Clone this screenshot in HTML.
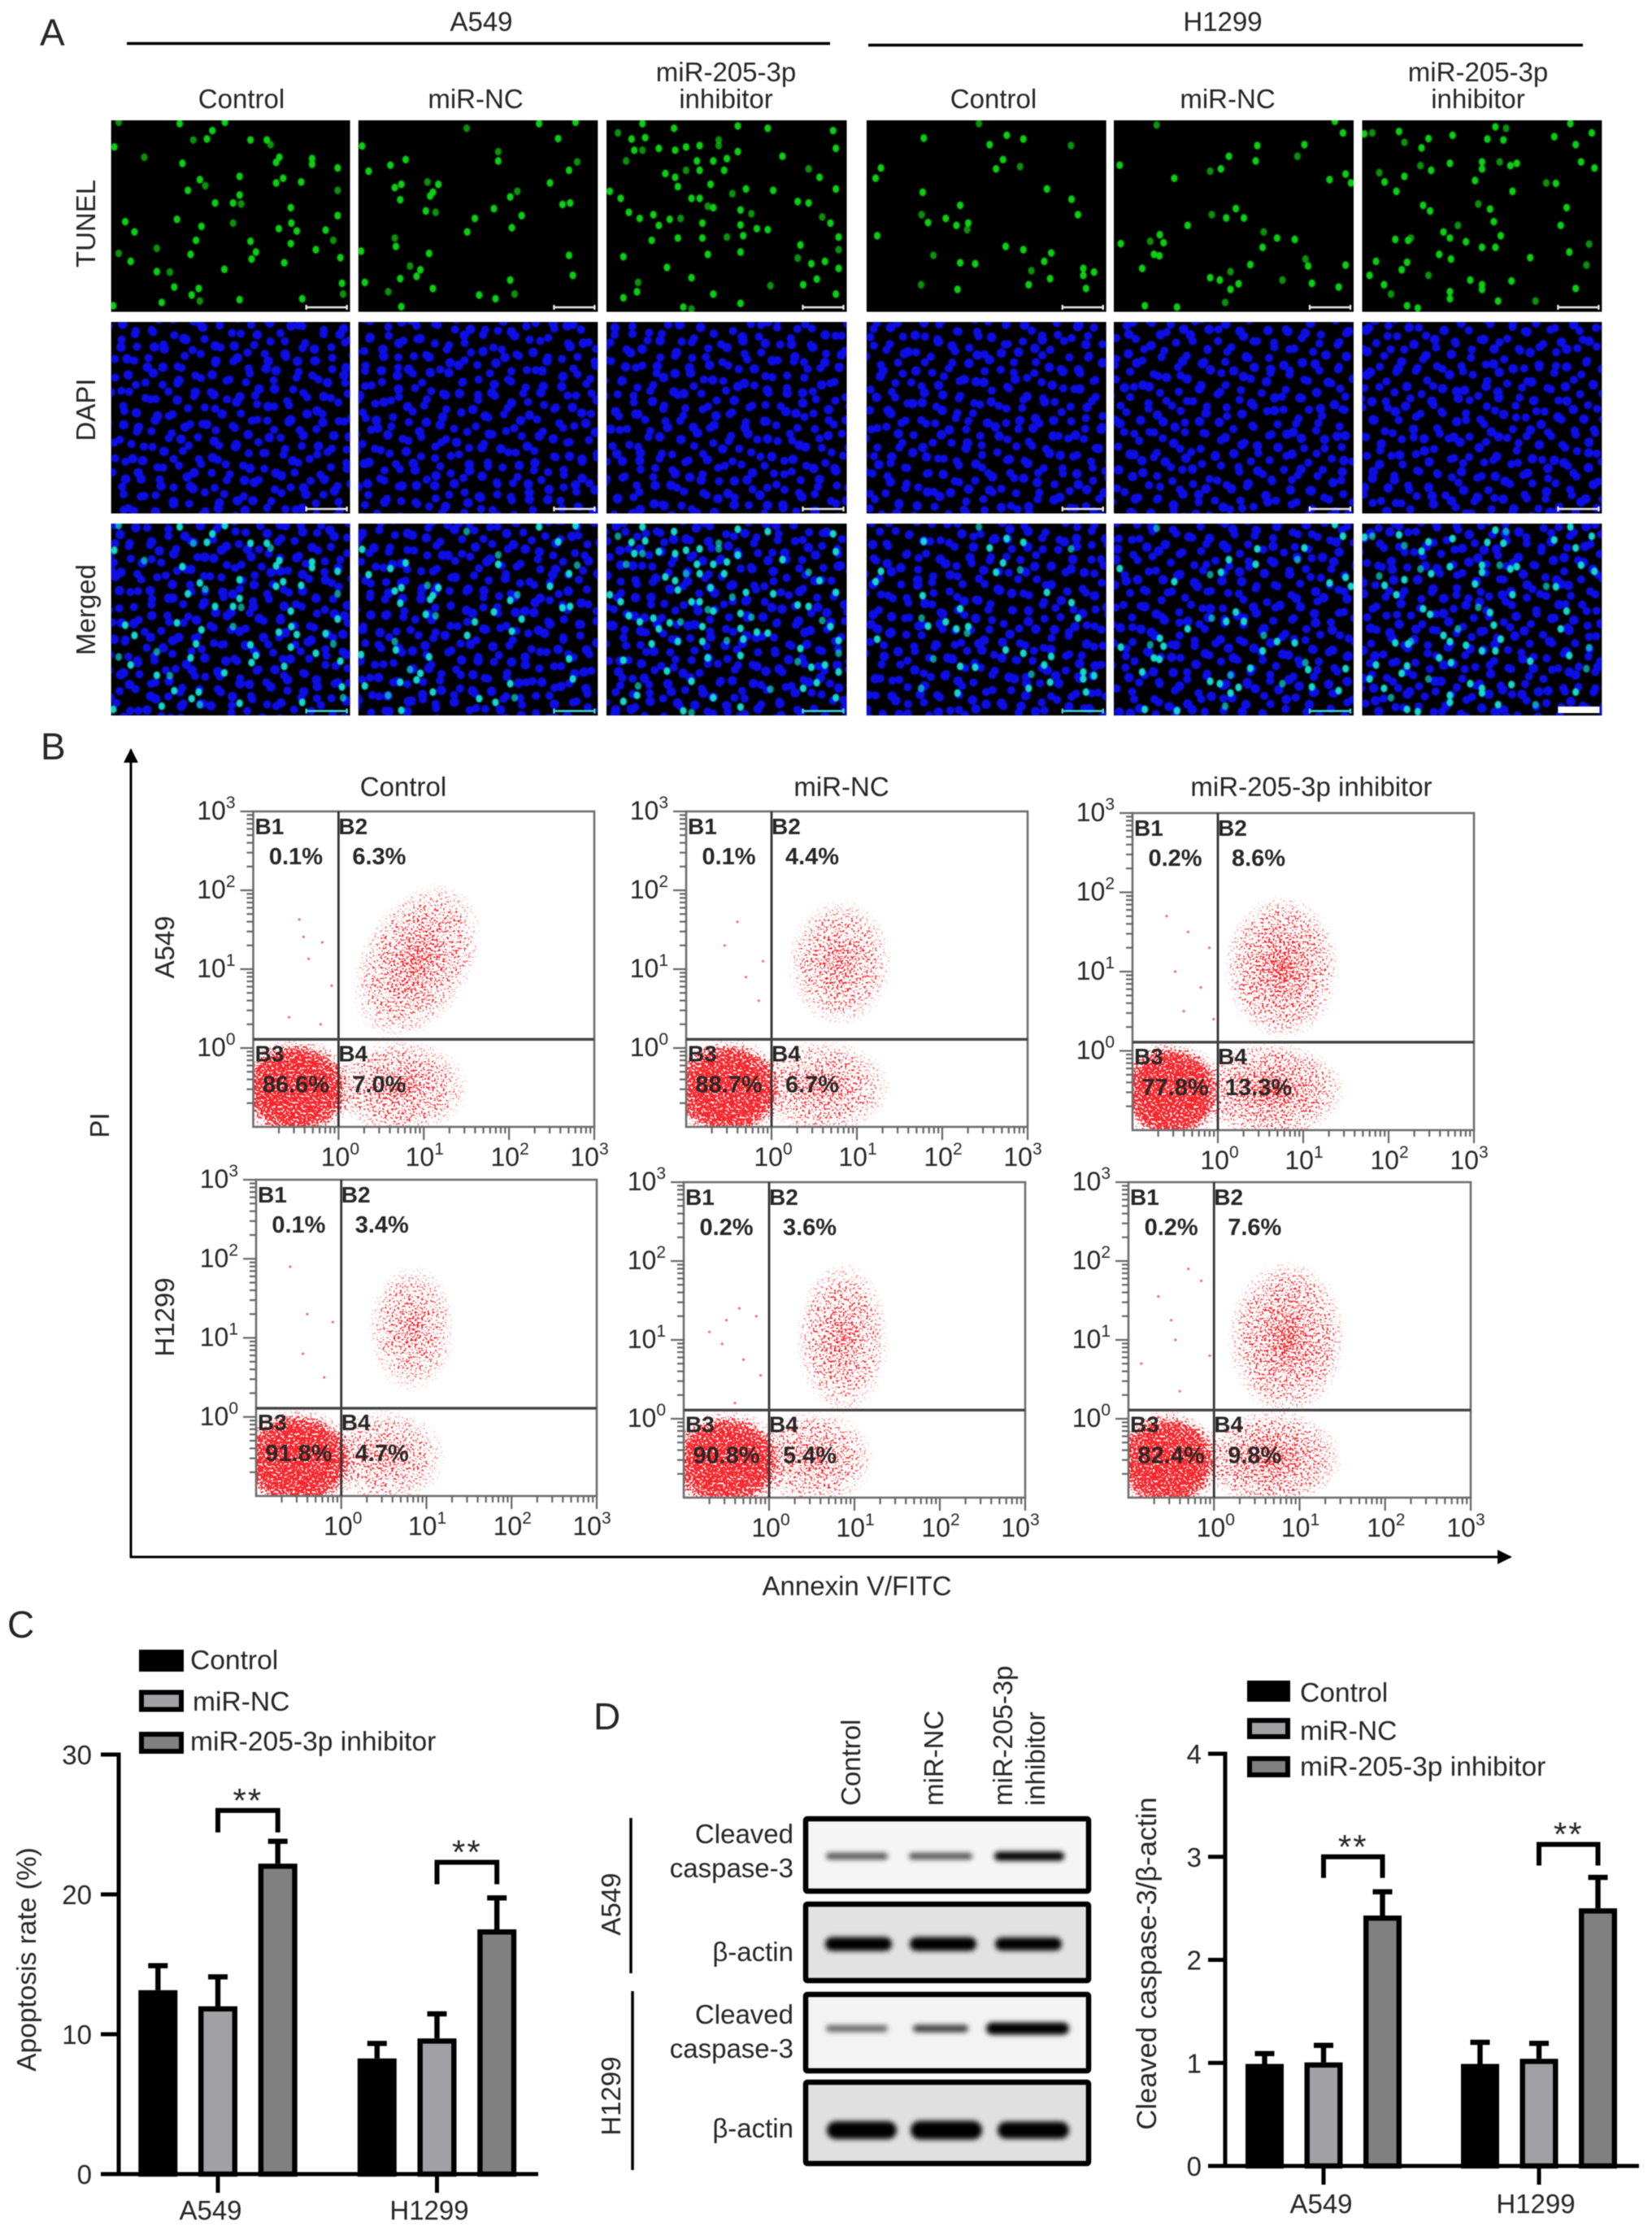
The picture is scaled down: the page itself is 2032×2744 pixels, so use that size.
<!DOCTYPE html>
<html lang="en">
<head>
<meta charset="utf-8">
<title>miR-205-3p inhibitor apoptosis figure</title>
<style>
  html,body{margin:0;padding:0;background:#fff;}
  svg{display:block;filter:blur(0.55px);}
  text{font-family:"Liberation Sans",sans-serif;fill:#262626;}
</style>
</head>
<body>
<svg id="figure" xmlns="http://www.w3.org/2000/svg" width="2032" height="2744" viewBox="0 0 2032 2744">
  <defs id="defs">
    <filter id="speckle" x="-5%" y="-5%" width="110%" height="110%" color-interpolation-filters="sRGB">
      <feTurbulence type="fractalNoise" baseFrequency="0.38" numOctaves="2" seed="7" result="raw"/>
      <feColorMatrix in="raw" type="matrix" values="0 0 0 0 0  0 0 0 0 0  0 0 0 0 0  3.6 0 0 0 -1.3" result="noise"/>
      <feComposite in="SourceAlpha" in2="noise" operator="arithmetic" k1="0" k2="1" k3="1" k4="-1" result="mask"/>
      <feComponentTransfer in="mask" result="sharp"><feFuncA type="linear" slope="5" intercept="0"/></feComponentTransfer>
      <feFlood flood-color="#f7141a" flood-opacity="0.92"/>
      <feComposite in2="sharp" operator="in"/>
    </filter>
    <filter id="band-blur" x="-20%" y="-80%" width="140%" height="260%"><feGaussianBlur stdDeviation="3.2"/></filter>
    <filter id="soft" x="-2%" y="-2%" width="104%" height="104%"><feGaussianBlur stdDeviation="0.8"/></filter>
    <marker id="arrow-head" viewBox="0 0 10 10" refX="9" refY="5" markerWidth="6" markerHeight="6" orient="auto"><path d="M0 0L10 5L0 10z" fill="#000"/></marker>
  </defs>

  <g id="panel-a">
    <text x="49" y="56" font-size="46">A</text>
    <text x="592" y="38" font-size="33" text-anchor="middle">A549</text>
    <line x1="156" y1="53.5" x2="1021" y2="53.5" stroke="#000" stroke-width="3.5"/>
    <text x="1504" y="38" font-size="33" text-anchor="middle">H1299</text>
    <line x1="1068" y1="55.5" x2="1947" y2="55.5" stroke="#000" stroke-width="3.5"/>
  </g>
  <g id="panel-b">
    <text x="50" y="934" font-size="46">B</text>
    <line x1="161" y1="1916" x2="161" y2="922" stroke="#000" stroke-width="3" marker-end="url(#arrow-head)"/>
    <line x1="160" y1="1915" x2="1858" y2="1915" stroke="#000" stroke-width="3" marker-end="url(#arrow-head)"/>
    <text x="1054" y="1962" font-size="33" text-anchor="middle">Annexin V/FITC</text>
    <text transform="translate(134 1384) rotate(-90)" font-size="33" text-anchor="middle">PI</text>
    <text transform="translate(214 1165) rotate(-90)" font-size="33" text-anchor="middle">A549</text>
    <text transform="translate(214 1620) rotate(-90)" font-size="33" text-anchor="middle">H1299</text>
    <text x="496" y="979" font-size="33" text-anchor="middle">Control</text>
    <text x="1035" y="979" font-size="33" text-anchor="middle">miR-NC</text>
    <text x="1613" y="979" font-size="33" text-anchor="middle">miR-205-3p inhibitor</text>
  </g>
  <g id="panel-c">
    <text x="9" y="2014" font-size="46">C</text>
  </g>
  <g id="panel-d">
    <text x="730" y="2127" font-size="46">D</text>
  </g>
</svg>

<script>
/* ---------- shared categories ---------- */
const cellLines = ['A549', 'H1299'];
const treatments = ['Control', 'miR-NC', 'miR-205-3p inhibitor'];

/* ---------- panel C: apoptosis rate ---------- */
const apoptosisTicks = [0, 10, 20, 30];
const apoptosisA549 = [13.15, 12.0, 22.2];
const apoptosisH1299 = [8.27, 9.7, 17.5];
const apoptosisErrA549 = [1.75, 2.1, 1.6];
const apoptosisErrH1299 = [1.07, 1.76, 2.25];
const apoptosisBrackets = [26.0, 22.3];

/* ---------- panel D: cleaved caspase-3 / beta-actin ---------- */
const caspaseTicks = [0, 1, 2, 3, 4];
const caspaseA549 = [0.99, 1.005, 2.43];
const caspaseH1299 = [0.99, 1.04, 2.5];
const caspaseErrA549 = [0.10, 0.165, 0.23];
const caspaseErrH1299 = [0.21, 0.15, 0.30];
const caspaseBrackets = [3.0, 3.12];

/* ---------- panel D: western blot band strengths (opacity) and widths ---------- */
const blotNames = ['Cleaved caspase-3', '\u03B2-actin', 'Cleaved caspase-3', '\u03B2-actin'];
const blotIntensity = [[0.68, 0.68, 1], [1, 1, 1], [0.6, 0.75, 1], [1, 1, 1]];
const blotBandWidth = [[76, 78, 86], [82, 82, 82], [76, 68, 102], [86, 88, 88]];
const blotBandHeight = [[8, 8, 11], [17, 17, 16], [8, 9, 15], [22, 23, 21]];

/* ---------- panel B: flow cytometry ---------- */
const flowPlotNames = ['a549-control', 'a549-mir-nc', 'a549-inhibitor', 'h1299-control', 'h1299-mir-nc', 'h1299-inhibitor'];
const quadrantNames = ['B1', 'B2', 'B3', 'B4'];
const flowPercents = [
  ['0.1%', '6.3%', '86.6%', '7.0%'],
  ['0.1%', '4.4%', '88.7%', '6.7%'],
  ['0.2%', '8.6%', '77.8%', '13.3%'],
  ['0.1%', '3.4%', '91.8%', '4.7%'],
  ['0.2%', '3.6%', '90.8%', '5.4%'],
  ['0.2%', '7.6%', '82.4%', '9.8%']
];
const flowExponents = ['0', '1', '2', '3'];
/* gate positions in log10 units */
const flowGateX = [0, 0, 0, 0, 0, 0];
const flowGateY = [0.11, 0.11, 0.11, 0.11, 0.11, 0.11];
/* population centres and half-extents in log10 units, with peak density */
const liveCellPopulation = [
  [-0.5, -0.52, 0.7, 0.66, 1.0], [-0.52, -0.52, 0.72, 0.66, 1.0], [-0.55, -0.52, 0.64, 0.66, 1.0],
  [-0.52, -0.54, 0.74, 0.66, 1.0], [-0.5, -0.54, 0.72, 0.66, 1.0], [-0.55, -0.54, 0.66, 0.66, 1.0]
];
const lateApoptosisPopulation = [
  [0.92, 1.1, 0.66, 1.08, 0.6], [0.8, 1.08, 0.62, 0.82, 0.52], [0.75, 1.05, 0.68, 0.92, 0.68],
  [0.83, 1.12, 0.52, 0.82, 0.48], [0.86, 1.02, 0.55, 0.98, 0.54], [0.85, 1.02, 0.7, 1.0, 0.66]
];
const lateApoptosisTilt = [30, 0, 0, 0, 0, 0];
const earlyApoptosisPopulation = [
  [0.72, -0.5, 0.82, 0.62, 0.58], [0.6, -0.5, 0.8, 0.62, 0.54], [0.62, -0.5, 0.88, 0.62, 0.7],
  [0.52, -0.5, 0.72, 0.62, 0.48], [0.52, -0.5, 0.72, 0.62, 0.54], [0.66, -0.5, 0.85, 0.62, 0.68]
];
/* sparse events read individually in the upper-left gate (log10 x, log10 y) */
const upperLeftEvents = [
  [[-0.46, 1.63], [-0.41, 1.41], [-0.19, 1.34], [-0.35, 1.13], [-0.08, 0.79], [-0.58, 0.39], [-0.21, 0.3]],
  [[-0.55, 1.3], [-0.3, 0.9], [-0.15, 0.6], [-0.4, 1.6], [-0.1, 1.1]],
  [[-0.6, 1.7], [-0.35, 1.5], [-0.1, 1.3], [-0.5, 1.0], [-0.2, 0.8], [-0.4, 0.5], [-0.05, 0.4]],
  [[-0.6, 1.9], [-0.4, 1.3], [-0.1, 1.2], [-0.45, 0.8], [-0.2, 0.5]],
  [[-0.5, 1.25], [-0.35, 1.4], [-0.15, 1.3], [-0.7, 1.1], [-0.55, 0.95], [-0.3, 0.75], [-0.1, 0.55], [-0.4, 0.2]],
  [[-0.65, 1.55], [-0.3, 1.9], [-0.15, 1.75], [-0.5, 1.25], [-0.45, 1.0], [-0.85, 0.7], [-0.4, 0.35], [-0.05, 0.8]]
];

/* ---------- panel A: TUNEL-positive nuclei read from each micrograph,
   as positions in the source view of that panel ---------- */
const tunelControlA = [[355,300],[380,298],[390,280],[460,300],[490,300],[497,310],[513,337],[507,348],[573,340],[573,352],[265,337],[335,350],[210,315],[620,360],[367,385],[377,398],[440,378],[520,382],[507,392],[553,390],[620,408],[345,408],[395,435],[440,418],[428,435],[443,437],[534,445],[620,462],[325,470],[370,485],[428,478],[512,490],[535,478],[545,495],[598,493],[612,515],[230,475],[247,497],[360,515],[460,517],[288,532],[470,540],[462,555],[534,522],[580,535],[218,543],[240,560],[350,545],[522,563],[625,552],[312,583],[288,582],[412,577],[365,618],[352,632],[367,645],[297,648],[440,642],[555,640],[628,607],[630,630],[208,655],[320,615],[330,265],[413,262],[218,262]];
const tunelNcA = [[857,275],[990,265],[1057,262],[1025,297],[665,313],[915,325],[915,345],[745,342],[717,354],[677,367],[1060,347],[1045,365],[725,402],[737,395],[735,428],[785,390],[805,395],[795,412],[790,420],[1010,392],[950,410],[937,422],[1033,438],[1047,435],[782,452],[800,455],[907,447],[958,462],[872,468],[940,488],[725,510],[727,528],[1045,547],[663,538],[788,543],[753,570],[772,578],[765,592],[735,597],[670,605],[713,625],[795,618],[880,632],[910,640],[937,600],[945,630],[737,657],[1052,590],[858,497]];
const tunelInhA = [[1135,285],[1180,265],[1238,275],[1160,298],[1185,295],[1320,300],[1355,270],[1410,275],[1530,280],[1165,322],[1180,322],[1210,318],[1240,322],[1260,315],[1285,312],[1320,312],[1355,325],[1335,340],[1437,335],[1535,318],[1150,345],[1222,372],[1240,380],[1280,345],[1310,345],[1260,365],[1285,365],[1330,365],[1245,400],[1305,395],[1485,362],[1505,380],[1535,405],[1120,410],[1140,425],[1345,415],[1370,405],[1420,408],[1270,425],[1285,425],[1300,442],[1310,445],[1465,432],[1485,435],[1360,450],[1380,458],[1155,455],[1175,468],[1200,460],[1230,470],[1250,468],[1210,483],[1290,478],[1360,482],[1390,490],[1510,465],[1525,478],[1197,515],[1245,510],[1290,510],[1335,508],[1365,505],[1410,492],[1540,508],[1470,525],[1540,535],[1145,550],[1225,573],[1300,545],[1360,540],[1465,553],[1490,565],[1515,560],[1540,575],[1270,595],[1172,605],[1145,638],[1170,625],[1310,630],[1360,650],[1415,612],[1475,610],[1500,598],[1535,630],[1255,658],[1270,662]];
const tunelControlH = [[310,265],[207,296],[330,310],[362,290],[393,298],[482,312],[127,360],[117,382],[355,342],[342,362],[387,357],[437,405],[205,412],[483,427],[275,440],[203,460],[215,477],[248,468],[268,483],[290,478],[288,492],[495,460],[120,505],[360,528],[393,535],[225,547],[445,542],[432,560],[275,563],[303,565],[408,580],[505,575],[525,583],[443,597],[505,590],[202,610],[403,610],[510,618],[270,620]];
const tunelNcH = [[642,268],[975,260],[990,285],[573,354],[777,335],[742,367],[762,362],[830,312],[827,345],[918,310],[905,335],[675,382],[965,385],[995,373],[1005,392],[745,460],[772,467],[805,467],[790,447],[700,483],[842,497],[840,530],[867,510],[900,513],[575,522],[630,517],[655,520],[648,503],[637,545],[647,548],[920,555],[925,570],[995,568],[615,575],[817,567],[780,582],[742,595],[760,600],[795,608],[780,620],[877,600],[932,607],[982,615],[620,655],[680,658],[770,648]];
const tunelInhH = [[1045,285],[1030,287],[1095,282],[1195,290],[1275,272],[1295,275],[1385,293],[1415,265],[1150,297],[1137,317],[1105,305],[1260,298],[1290,300],[1425,310],[1455,285],[1135,355],[1155,365],[1190,350],[1250,347],[1250,362],[1283,347],[1303,355],[1315,350],[1435,347],[1460,360],[1058,370],[1105,378],[1068,390],[1090,410],[1237,387],[1370,392],[1388,393],[1307,410],[1140,440],[1153,452],[1243,437],[1265,448],[1408,445],[1272,475],[1178,497],[1205,483],[1397,483],[1285,505],[1088,513],[1112,515],[1117,510],[1190,510],[1220,518],[1250,530],[1275,530],[1450,523],[1170,545],[1192,555],[1413,540],[1340,552],[1445,568],[1052,560],[1110,562],[1100,578],[1040,590],[1150,590],[1228,600],[1250,610],[1305,602],[1067,610],[1080,630],[1190,625],[1425,618],[1250,620],[1280,645],[1350,645],[1110,655],[1130,660],[1190,640]];
const tunelPanels = [tunelControlA, tunelNcA, tunelInhA, tunelControlH, tunelNcH, tunelInhH];
/* hand-placed nuclei for a repeating DAPI texture tile */
const nucleiTile = [[7,9],[25,6],[40,11],[56,7],[71,10],[90,8],[104,12],[10,26],[24,22],[43,27],[58,24],[75,28],[87,23],[105,27],[6,41],[27,38],[39,44],[55,40],[73,43],[91,39],[108,42],[11,57],[22,55],[44,59],[60,56],[70,60],[88,54],[102,58],[8,73],[28,71],[38,75],[54,70],[76,74],[92,72],[106,76],[12,88],[24,90],[42,86],[59,91],[72,87],[86,91],[103,89],[5,103],[26,106],[41,101],[57,105],[74,102],[90,106],[107,103]];

const SVGNS = 'http://www.w3.org/2000/svg';

function mk(tag, attrs, parent) {
  const el = document.createElementNS(SVGNS, tag);
  for (const k in attrs) el.setAttribute(k, attrs[k]);
  parent.appendChild(el);
  return el;
}
function label(txt, attrs, parent, name) {
  const el = mk('text', attrs, parent);
  el.textContent = txt;
  
  
  return el;
}
function part(tag, attrs, parent, name) {
  const el = mk(tag, attrs, parent);
  
  
  return el;
}

/* ================= panel A ================= */
function drawMicrographs() {
  const root = document.getElementById('panel-a');
  const defs = document.getElementById('defs');
  const colNames = ['a549-control', 'a549-mir-nc', 'a549-inhibitor', 'h1299-control', 'h1299-mir-nc', 'h1299-inhibitor'];
  const colX = [[136.6, 430.7], [440.7, 735.4], [746, 1041.5], [1065.8, 1360.8], [1370, 1665], [1675.4, 1970.4]];
  const srcX = [[204, 643], [658, 1098], [1114, 1555], [100, 548], [562, 1010], [1026, 1474]];
  const srcY = [258, 668];
  const rowY = [[148, 383.5], [396, 631.5], [644, 880]];
  const rowNames = ['tunel', 'dapi', 'merged'];
  const turnsA = [11, 97, 190, 283, 37, 128];
  const turnsB = [63, 151, 241, 20, 109, 205];
  const scaleA = 1.25, scaleB = 1.6;

  const heads = [[297, 'Control'], [585, 'miR-NC'], [1222, 'Control'], [1510, 'miR-NC']];
  heads.forEach(h => label(h[1], {x: h[0], y: 133, 'font-size': 33, 'text-anchor': 'middle'}, root, 'column-title'));
  [893, 1818].forEach(x => {
    label('miR-205-3p', {x: x, y: 100, 'font-size': 33, 'text-anchor': 'middle'}, root, 'column-title');
    label('inhibitor', {x: x, y: 133, 'font-size': 33, 'text-anchor': 'middle'}, root, 'column-title');
  });
  [['TUNEL', 275], ['DAPI', 504], ['Merged', 750]].forEach(r => {
    label(r[0], {transform: 'translate(117 ' + r[1] + ') rotate(-90)', 'font-size': 33, 'text-anchor': 'middle'}, root, 'row-label');
  });

  colX.forEach((cx, c) => {
    /* two overlapping layers at different angles and scales give irregular nuclei */
    const patA = mk('pattern', {id: 'nuclei-a-' + c, width: 112, height: 112, patternUnits: 'userSpaceOnUse',
      patternTransform: 'translate(' + (cx[0] + 13 * c) + ' ' + (17 * c) + ') rotate(' + turnsA[c] + ') scale(' + scaleA + ')'}, defs);
    const patB = mk('pattern', {id: 'nuclei-b-' + c, width: 112, height: 112, patternUnits: 'userSpaceOnUse',
      patternTransform: 'translate(' + (cx[0] + 31 * c) + ' ' + (5 * c + 40) + ') rotate(' + turnsB[c] + ') scale(' + scaleB + ')'}, defs);
    nucleiTile.forEach((n, k) => {
      const big = k % 3 === 0 ? 5.9 : 5.1;
      mk('circle', {cx: n[0], cy: n[1], r: big / scaleA, fill: '#0b0fe6'}, patA);
      mk('circle', {cx: n[0], cy: n[1], r: big / scaleB, fill: '#0b0fe6'}, patB);
    });

    rowY.forEach((ry, r) => {
      const w = cx[1] - cx[0], h = ry[1] - ry[0];
      const clip = mk('clipPath', {id: 'cell-clip-' + c + '-' + r}, defs);
      mk('rect', {x: cx[0], y: ry[0], width: w, height: h}, clip);
      const g = part('g', {'clip-path': 'url(#cell-clip-' + c + '-' + r + ')'}, root, 'micrograph-' + rowNames[r] + '-' + colNames[c]);
      mk('rect', {x: cx[0], y: ry[0], width: w, height: h, fill: '#000'}, g);
      if (r > 0) {
        const layer = part('g', {filter: 'url(#soft)'}, g, 'dapi-nuclei');
        mk('rect', {x: cx[0], y: ry[0], width: w, height: h, fill: 'url(#nuclei-a-' + c + ')'}, layer);
        mk('rect', {x: cx[0], y: ry[0], width: w, height: h, fill: 'url(#nuclei-b-' + c + ')'}, layer);
      }
      if (r !== 1) {
        const dots = part('g', {fill: r === 0 ? '#10d014' : '#14d8d0', filter: 'url(#soft)'}, g, 'tunel-positive-nuclei');
        tunelPanels[c].forEach((p, k) => {
          const fx = (p[0] - srcX[c][0]) / (srcX[c][1] - srcX[c][0]);
          const fy = (p[1] - srcY[0]) / (srcY[1] - srcY[0]);
          mk('ellipse', {cx: cx[0] + fx * w, cy: ry[0] + fy * h, rx: 4.1, ry: 4.8, 'fill-opacity': k % 5 === 0 ? 0.7 : 1}, dots);
        });
      }
      const barX2 = cx[1] - 4, barX1 = barX2 - 50, barY = ry[1] - 5.5;
      if (r === 2 && c === 5) {
        part('rect', {x: barX1, y: ry[1] - 11, width: 51, height: 8, fill: '#fff'}, g, 'scale-bar');
      } else {
        const col = r === 2 ? '#3fd8d8' : '#e8e8e8';
        part('path', {d: 'M' + barX1 + ' ' + barY + 'H' + barX2 + 'M' + barX1 + ' ' + (barY - 3) + 'v6M' + barX2 + ' ' + (barY - 3) + 'v6',
          stroke: col, 'stroke-width': 2.4, fill: 'none'}, g, 'scale-bar');
      }
    });
  });
}

/* ================= panel B ================= */
const flowFrames = [
  [311.5, 731, 998, 1386], [844, 1264, 998, 1386], [1393, 1813, 1000, 1390],
  [315, 734, 1451, 1840], [841, 1261, 1454, 1842], [1388, 1809, 1454, 1842]
];
function drawFlowPlot(i) {
  const root = document.getElementById('panel-b');
  const defs = document.getElementById('defs');
  const [L, R, T, B] = flowFrames[i];
  const sx = v => L + (v + 1) * (R - L) / 4;   /* log10 value -> px */
  const sy = v => B - (v + 1) * (B - T) / 4;
  const g = part('g', {}, root, 'flow-plot-' + flowPlotNames[i]);

  const clip = mk('clipPath', {id: 'flow-clip-' + i}, defs);
  mk('rect', {x: L, y: T, width: R - L, height: B - T}, clip);
  const grad = mk('radialGradient', {id: 'flow-density-' + i}, defs);
  mk('stop', {offset: '0', 'stop-color': '#f00', 'stop-opacity': 1}, grad);
  mk('stop', {offset: '0.2', 'stop-color': '#f00', 'stop-opacity': 0.74}, grad);
  mk('stop', {offset: '0.45', 'stop-color': '#f00', 'stop-opacity': 0.5}, grad);
  mk('stop', {offset: '0.72', 'stop-color': '#f00', 'stop-opacity': 0.32}, grad);
  mk('stop', {offset: '1', 'stop-color': '#f00', 'stop-opacity': 0}, grad);
  const coreGrad = mk('radialGradient', {id: 'flow-core-' + i}, defs);
  mk('stop', {offset: '0', 'stop-color': '#f00', 'stop-opacity': 1}, coreGrad);
  mk('stop', {offset: '0.62', 'stop-color': '#f00', 'stop-opacity': 1}, coreGrad);
  mk('stop', {offset: '0.85', 'stop-color': '#f00', 'stop-opacity': 0.72}, coreGrad);
  mk('stop', {offset: '1', 'stop-color': '#f00', 'stop-opacity': 0}, coreGrad);

  const clipG = part('g', {'clip-path': 'url(#flow-clip-' + i + ')'}, g, 'flow-events');
  const speck = mk('g', {filter: 'url(#speckle)'}, clipG);
  mk('rect', {x: L, y: T, width: R - L, height: B - T, fill: '#000', 'fill-opacity': 0.001}, speck);
  [lateApoptosisPopulation[i], earlyApoptosisPopulation[i], liveCellPopulation[i]].forEach((p, k) => {
    const e = mk('ellipse', {cx: sx(p[0]), cy: sy(p[1]), rx: p[2] * (R - L) / 4, ry: p[3] * (B - T) / 4,
      fill: 'url(#flow-density-' + i + ')', 'fill-opacity': p[4]}, speck);
    if (k === 0) e.setAttribute('transform', 'rotate(' + lateApoptosisTilt[i] + ' ' + sx(p[0]) + ' ' + sy(p[1]) + ')');
    
    
  });
  const live = liveCellPopulation[i];
  part('ellipse', {cx: sx(live[0]), cy: sy(live[1]), rx: live[2] * 0.86 * (R - L) / 4, ry: live[3] * 0.86 * (B - T) / 4,
    fill: 'url(#flow-core-' + i + ')', 'fill-opacity': live[4]}, speck, 'live-cell-dense-core');
  upperLeftEvents[i].forEach(p => {
    const d = mk('circle', {cx: sx(p[0]), cy: sy(p[1]), r: 1.6, fill: '#f2707a'}, clipG);
    
    
  });

  /* frame and ticks */
  part('rect', {x: L, y: T, width: R - L, height: B - T, fill: 'none', stroke: '#6e6e6e', 'stroke-width': 2.6}, g, 'flow-frame');
  const ticks = part('g', {stroke: '#666', 'stroke-width': 2.2, fill: 'none'}, g, 'flow-ticks');
  for (let d = -1; d < 3; d++) {
    for (let m = 1; m < 10; m++) {
      const v = d + Math.log10(m);
      if (m === 1 && d === -1) continue;
      const len = m === 1 ? 16 : 8;
      mk('line', {x1: L - len, x2: L, y1: sy(v), y2: sy(v)}, ticks);
      mk('line', {x1: sx(v), x2: sx(v), y1: B, y2: B + len}, ticks);
    }
  }
  mk('line', {x1: L - 16, x2: L, y1: T, y2: T}, ticks);
  mk('line', {x1: R, x2: R, y1: B, y2: B + 16}, ticks);

  /* tick labels */
  const labelShift = [2, 1, 1, -6];
  flowExponents.forEach((ex, k) => {
    const xl = label('10', {x: sx(k) + labelShift[k], y: B + 48, 'font-size': 32, 'text-anchor': 'middle'}, g, 'x-tick-label');
    const xs = mk('tspan', {dy: -14, 'font-size': 21}, xl);
    xs.textContent = ex;
    const yl = label('10', {x: L - 22, y: sy(k) + 10, 'font-size': 32, 'text-anchor': 'end'}, g, 'y-tick-label');
    const ys = mk('tspan', {dy: -14, 'font-size': 21}, yl);
    ys.textContent = ex;
  });

  /* gates */
  const vx = sx(flowGateX[i]), hy = sy(flowGateY[i]);
  part('line', {x1: vx, x2: vx, y1: T, y2: B, stroke: '#333', 'stroke-width': 2.8}, g, 'gate-vertical');
  part('line', {x1: L, x2: R, y1: hy, y2: hy, stroke: '#444', 'stroke-width': 3.4}, g, 'gate-horizontal');

  /* quadrant labels */
  const quadX = [L + 2, vx, L + 2, vx];
  const quadY = [T + 28, T + 28, hy + 27, hy + 27];
  const pctY = [T + 65, T + 65, hy + 65, hy + 65];
  quadrantNames.forEach((q, k) => {
    label(q, {x: quadX[k], y: quadY[k], 'font-size': 28, 'font-weight': 'bold', fill: '#1c1c1c'}, g, 'quadrant-name');
    const centre = k % 2 === 0 ? (L + vx) / 2 : vx + 50;
    label(flowPercents[i][k], {x: centre, y: pctY[k], 'font-size': 29, 'font-weight': 'bold', 'text-anchor': 'middle', fill: '#1c1c1c'}, g, 'quadrant-percent');
  });
}

/* ================= bar charts ================= */
function drawBarChart(rootId, c, rowsA, rowsH, errA, errH, ticks, brackets) {
  const root = document.getElementById(rootId);
  const g = part('g', {}, root, c.name);
  const y = v => c.y0 - v * (c.y0 - c.yTop) / c.yMax;
  const x = (grp, s) => c.groupX[grp] + (s - 1) * c.step;
  const fills = ['#000', '#a1a1a5', '#808080'];
  const sw = 6.4;

  [rowsA, rowsH].forEach((vals, grp) => {
    const errs = grp === 0 ? errA : errH;
    vals.forEach((v, s) => {
      const cx = x(grp, s);
      const top = y(v + errs[s]);
      part('line', {x1: cx, x2: cx, y1: top, y2: y(v), stroke: '#000', 'stroke-width': sw}, g, 'error-bar');
      part('line', {x1: cx - 12, x2: cx + 12, y1: top, y2: top, stroke: '#000', 'stroke-width': sw}, g, 'error-cap');
      part('rect', {x: cx - c.barW / 2 + sw / 2, y: y(v) + sw / 2, width: c.barW - sw, height: c.y0 - y(v) - sw / 2,
        fill: fills[s], stroke: '#000', 'stroke-width': sw}, g, 'bar-' + cellLines[grp].toLowerCase() + '-' + s);
    });
    part('line', {x1: c.groupX[grp], x2: c.groupX[grp], y1: c.y0, y2: c.y0 + 23, stroke: '#000', 'stroke-width': 5}, g, 'x-tick');
    label(cellLines[grp], {x: c.labelX[grp], y: c.labelY, 'font-size': 33, 'text-anchor': 'middle'}, g, 'x-tick-label');

    const bx1 = x(grp, 1), bx2 = x(grp, 2), by = y(brackets[grp]);
    part('path', {d: 'M' + bx1 + ' ' + (by + c.leg) + 'V' + by + 'H' + bx2 + 'V' + (by + c.leg), fill: 'none', stroke: '#000', 'stroke-width': 6}, g, 'significance-bracket');
    label('**', {x: (bx1 + bx2) / 2, y: by + 2, 'font-size': 42, 'letter-spacing': 2, 'text-anchor': 'middle', fill: '#444'}, g, 'significance-stars');
  });

  part('line', {x1: c.axisX, x2: c.axisX, y1: c.yTop - 2.5, y2: c.y0, stroke: '#000', 'stroke-width': 5}, g, 'y-axis');
  part('line', {x1: c.tickX, x2: c.axisEnd, y1: c.y0, y2: c.y0, stroke: '#000', 'stroke-width': 5}, g, 'x-axis');
  ticks.forEach(t => {
    part('line', {x1: c.tickX, x2: c.axisX, y1: y(t), y2: y(t), stroke: '#000', 'stroke-width': 5}, g, 'y-tick');
    label(String(t), {x: c.tickLabelX, y: y(t) + 12, 'font-size': 33, 'text-anchor': 'end'}, g, 'y-tick-label');
  });
  label(c.title, {transform: 'translate(' + c.titleX + ' ' + c.titleY + ') rotate(-90)', 'font-size': c.titleSize, 'text-anchor': 'middle'}, g, 'y-axis-title');

  treatments.forEach((t, s) => {
    const ly = c.legendY[s];
    part('rect', {x: c.legendX + 3, y: ly + 3, width: c.legendW - 6, height: c.legendH - 6, fill: fills[s], stroke: '#000', 'stroke-width': 6}, g, 'legend-swatch');
    label(t, {x: c.legendTextX[s], y: c.legendBase[s], 'font-size': 33.6}, g, 'legend-entry');
  });
}

/* ================= western blots ================= */
function drawBlots() {
  const root = document.getElementById('panel-d');
  const boxes = [[2237, 2326], [2342, 2436], [2453, 2547], [2561, 2661]];
  const laneX = [[1054, 1157, 1266], [1056, 1160, 1265], [1054, 1157, 1264], [1060, 1164, 1271]];
  const bandY = [2283, 2391, 2495, 2620];
  const bgs = ['#f5f5f5', '#e2e2e2', '#f3f3f3', '#e0e0e0'];
  const left = 991, right = 1339;
  boxes.forEach((b, i) => {
    const g = part('g', {}, root, 'blot-' + i);
    const clipId = 'blot-clip-' + i;
    const clip = mk('clipPath', {id: clipId}, document.getElementById('defs'));
    mk('rect', {x: left, y: b[0], width: right - left, height: b[1] - b[0]}, clip);
    part('rect', {x: left, y: b[0], width: right - left, height: b[1] - b[0], fill: bgs[i]}, g, 'blot-background');
    const bands = part('g', {'clip-path': 'url(#' + clipId + ')'}, g, 'blot-bands');
    blotIntensity[i].forEach((v, k) => {
      const w = blotBandWidth[i][k], h = blotBandHeight[i][k];
      const band = mk('rect', {x: laneX[i][k] - w / 2, y: bandY[i] - h / 2, width: w, height: h, rx: h / 2, fill: '#000', 'fill-opacity': v, filter: 'url(#band-blur)'}, bands);
      
      
    });
    part('rect', {x: left, y: b[0], width: right - left, height: b[1] - b[0], rx: 2, fill: 'none', stroke: '#000', 'stroke-width': 6.5}, g, 'blot-frame');
  });
  const names = [[['Cleaved', 2267], ['caspase-3', 2309]], [['\u03B2-actin', 2412]], [['Cleaved', 2489], ['caspase-3', 2531]], [['\u03B2-actin', 2629]]];
  names.forEach(block => block.forEach(n => label(n[0], {x: 976, y: n[1], 'font-size': 33, 'text-anchor': 'end'}, root, 'blot-protein-label')));
  part('line', {x1: 776, x2: 776, y1: 2236, y2: 2427, stroke: '#000', 'stroke-width': 3.5}, root, 'a549-bracket-line');
  part('line', {x1: 778, x2: 778, y1: 2449, y2: 2669, stroke: '#000', 'stroke-width': 3.5}, root, 'h1299-bracket-line');
  label('A549', {transform: 'translate(763 2342) rotate(-90)', 'font-size': 33, 'text-anchor': 'middle'}, root, 'a549-blot-label');
  label('H1299', {transform: 'translate(763 2578) rotate(-90)', 'font-size': 33, 'text-anchor': 'middle'}, root, 'h1299-blot-label');
  [['Control', 1058], ['miR-NC', 1160], ['miR-205-3p', 1245], ['inhibitor', 1285]].forEach(t => {
    label(t[0], {transform: 'translate(' + t[1] + ' 2221) rotate(-90)', 'font-size': 33}, root, 'lane-label');
  });
}

drawMicrographs();
flowPlotNames.forEach((n, i) => drawFlowPlot(i));
drawBarChart('panel-c', {
  name: 'apoptosis-rate-chart', y0: 2674, yTop: 2158, yMax: 30, groupX: [268, 537.5], step: 73.7, barW: 48,
  axisX: 146, axisEnd: 662, tickX: 124, tickLabelX: 113, labelX: [259, 528], labelY: 2730, leg: 27,
  title: 'Apoptosis rate (%)', titleX: 44, titleY: 2410, titleSize: 33.5,
  legendX: 171, legendW: 55, legendH: 27, legendY: [2029, 2078.5, 2130], legendTextX: [234, 237, 234], legendBase: [2053, 2104, 2153]
}, apoptosisA549, apoptosisH1299, apoptosisErrA549, apoptosisErrH1299, apoptosisTicks, apoptosisBrackets);
drawBarChart('panel-d', {
  name: 'cleaved-caspase-chart', y0: 2664, yTop: 2157, yMax: 4, groupX: [1628, 1893], step: 72.5, barW: 47,
  axisX: 1507, axisEnd: 2016, tickX: 1486, tickLabelX: 1478, labelX: [1625, 1889], labelY: 2722, leg: 26,
  title: 'Cleaved caspase-3/\u03B2-actin', titleX: 1422, titleY: 2415, titleSize: 34.5,
  legendX: 1534, legendW: 53, legendH: 26, legendY: [2067, 2113, 2160], legendTextX: [1599, 1599, 1599], legendBase: [2093, 2140, 2184]
}, caspaseA549, caspaseH1299, caspaseErrA549, caspaseErrH1299, caspaseTicks, caspaseBrackets);
drawBlots();
</script>
</body>
</html>
